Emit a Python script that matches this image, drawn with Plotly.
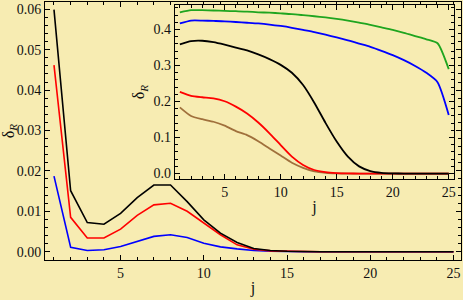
import plotly.graph_objects as go

j = list(range(1, 26))

# Main plot series
main_black = [0.0599, 0.0151, 0.0072, 0.0068, 0.0095, 0.0134, 0.0165, 0.0165, 0.0124, 0.0079,
              0.0046, 0.0023, 0.0008, 0.0003, 0.0001, 0.0, 0.0, 0.0, 0.0, 0.0,
              0.0, 0.0, 0.0, 0.0, 0.0]
main_red = [0.0462, 0.0085, 0.0034, 0.0034, 0.0056, 0.0090, 0.0116, 0.0120, 0.0100, 0.0071,
            0.0042, 0.0017, 0.0006, 0.0002, 0.0001, 0.0, 0.0, 0.0, 0.0, 0.0,
            0.0, 0.0, 0.0, 0.0, 0.0]
main_blue = [0.0187, 0.0011, 0.0003, 0.0005, 0.0013, 0.0025, 0.0038, 0.0042, 0.0035, 0.0021,
             0.0012, 0.0007, 0.0003, 0.0001, 0.0, 0.0, 0.0, 0.0, 0.0, 0.0,
             0.0, 0.0, 0.0, 0.0, 0.0]

# Inset series
ins_green = [0.448, 0.454, 0.454, 0.453, 0.452, 0.451, 0.450, 0.448, 0.447, 0.445,
             0.443, 0.440, 0.437, 0.434, 0.430, 0.425, 0.419, 0.413, 0.406, 0.399,
             0.391, 0.382, 0.373, 0.362, 0.290]
ins_blue = [0.417, 0.425, 0.425, 0.424, 0.423, 0.421, 0.419, 0.417, 0.414, 0.410,
            0.405, 0.399, 0.393, 0.386, 0.378, 0.370, 0.361, 0.352, 0.341, 0.329,
            0.315, 0.299, 0.280, 0.254, 0.163]
ins_black = [0.359, 0.368, 0.369, 0.365, 0.358, 0.350, 0.342, 0.331, 0.318, 0.302,
             0.280, 0.246, 0.197, 0.141, 0.089, 0.047, 0.020, 0.007, 0.002, 0.0005,
             0.0, 0.0, 0.0, 0.0, 0.0]
ins_red = [0.227, 0.216, 0.212, 0.209, 0.201, 0.186, 0.167, 0.142, 0.112, 0.079,
           0.047, 0.024, 0.010, 0.004, 0.0015, 0.0005, 0.0, 0.0, 0.0, 0.0,
           0.0, 0.0, 0.0, 0.0, 0.0]
ins_brown = [0.184, 0.160, 0.151, 0.144, 0.133, 0.118, 0.107, 0.090, 0.070, 0.050,
             0.030, 0.016, 0.006, 0.002, 0.0005, 0.0, 0.0, 0.0, 0.0, 0.0,
             0.0, 0.0, 0.0, 0.0, 0.0]

BG = "#F7ECB2"
FONT = "Liberation Serif"
TXT = "#111111"

fig = go.Figure()
for ys, col in [(main_blue, "#0000FF"), (main_red, "#FF0000"), (main_black, "#000000")]:
    fig.add_trace(go.Scatter(x=j, y=ys, mode="lines", line=dict(color=col, width=1.6),
                             xaxis="x", yaxis="y", showlegend=False))
for ys, col in [(ins_brown, "#A0703C"), (ins_red, "#FF0000"), (ins_black, "#000000"),
                (ins_blue, "#0000FF"), (ins_green, "#1FA51F")]:
    fig.add_trace(go.Scatter(x=j, y=ys, mode="lines", line=dict(color=col, width=1.8, shape="spline", smoothing=0.6),
                             xaxis="x2", yaxis="y2", showlegend=False))

axis_common = dict(showline=True, linecolor="black", linewidth=1, mirror="allticks",
                   ticks="inside", ticklen=5, tickcolor="black", tickwidth=1,
                   showgrid=False, zeroline=False, ticklabeloverflow="allow",
                   tickfont=dict(family=FONT, size=14, color=TXT))

fig.update_layout(
    width=463, height=300,
    margin=dict(l=45, r=2, t=2, b=40, autoexpand=False),
    paper_bgcolor=BG, plot_bgcolor=BG,
    font=dict(family=FONT, color=TXT),
    xaxis=dict(domain=[0, 1], range=[0.46, 25.45], tickvals=[5, 10, 15, 20, 25],
               minor=dict(dtick=1, tick0=0, ticks="inside", ticklen=3, tickcolor="black"),
               title=dict(text="j", font=dict(family=FONT, size=16, color=TXT), standoff=2), **axis_common),
    yaxis=dict(domain=[0, 1], range=[-0.00205, 0.0618], tickvals=[0, 0.01, 0.02, 0.03, 0.04, 0.05, 0.06],
               tickformat=".2f",
               minor=dict(dtick=0.002, tick0=0, ticks="inside", ticklen=3, tickcolor="black"),
               title=dict(text="δ<sub><i>R</i></sub>", font=dict(family=FONT, size=16, color=TXT), standoff=4), **axis_common),
    xaxis2=dict(domain=[0.312, 0.984], anchor="y2", range=[0.55, 25.5], tickvals=[5, 10, 15, 20, 25],
                minor=dict(dtick=1, tick0=0, ticks="inside", ticklen=3, tickcolor="black"),
                title=dict(text="j", font=dict(family=FONT, size=16, color=TXT), standoff=2), **axis_common),
    yaxis2=dict(domain=[0.314, 0.988], anchor="x2", range=[-0.015, 0.468], tickvals=[0, 0.1, 0.2, 0.3, 0.4],
                tickformat=".1f",
                minor=dict(dtick=0.02, tick0=0, ticks="inside", ticklen=3, tickcolor="black"),
                title=dict(text="δ<sub><i>R</i></sub>", font=dict(family=FONT, size=16, color=TXT), standoff=4), **axis_common),
)

fig.write_html("out.html", config={"displayModeBar": False},
               post_script="document.body.style.margin='0';document.body.style.background='" + BG + "';")
